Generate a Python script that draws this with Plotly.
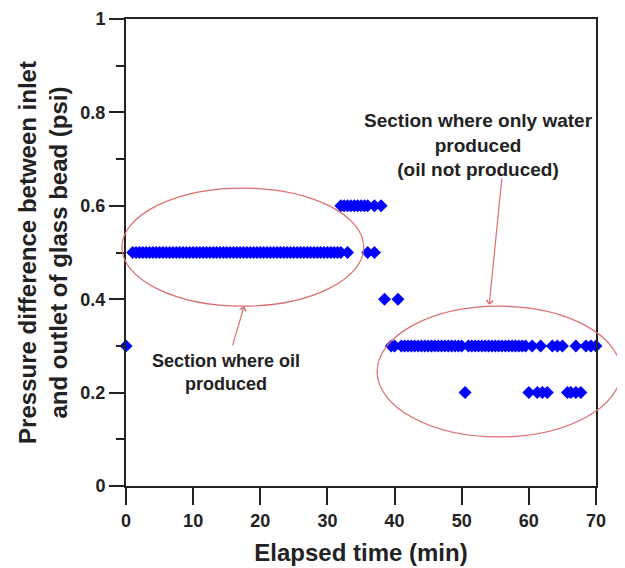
import plotly.graph_objects as go

# ---- data (elapsed time in min, pressure difference in psi) ----
t_05 = [1.0, 1.5, 2.0, 2.5, 3.0, 3.5, 4.0, 4.5, 5.0, 5.5, 6.0, 6.5, 7.0, 7.5, 8.0, 8.5,
        9.0, 9.5, 10.0, 10.5, 11.0, 11.5, 12.0, 12.5, 13.0, 13.5, 14.0, 14.5, 15.0, 15.5,
        16.0, 16.5, 17.0, 17.5, 18.0, 18.5, 19.0, 19.5, 20.0, 20.5, 21.0, 21.5, 22.0, 22.5,
        23.0, 23.5, 24.0, 24.5, 25.0, 25.5, 26.0, 26.5, 27.0, 27.5, 28.0, 28.5, 29.0, 29.5,
        30.0, 30.5, 31.0, 31.5, 32.0, 33.0, 36.0, 37.0]
p_05 = [0.5] * len(t_05)

t_06 = [32.0, 32.5, 33.0, 33.5, 34.0, 34.5, 35.0, 35.5, 36.0, 37.0, 38.0]
p_06 = [0.6] * len(t_06)

t_04 = [38.5, 40.5]
p_04 = [0.4, 0.4]

t_03 = [0.0, 39.5, 40.0, 41.0, 41.5, 42.0, 42.5, 43.0, 43.5, 44.0, 44.5, 45.0, 45.5, 46.0,
        46.5, 47.0, 47.5, 48.0, 48.5, 49.0, 49.5, 50.0, 51.0, 51.5, 52.0, 52.5, 53.0, 53.5,
        54.0, 54.5, 55.0, 55.5, 56.0, 56.5, 57.0, 57.5, 58.0, 58.5, 59.0, 59.5, 60.5, 61.75,
        63.5, 64.25, 65.0, 67.0, 68.5, 69.25, 70.0]
p_03 = [0.3] * len(t_03)

t_02 = [50.5, 60.0, 61.25, 62.0, 62.75, 65.75, 66.25, 67.0, 67.75]
p_02 = [0.2] * len(t_02)

times = t_05 + t_06 + t_04 + t_03 + t_02
pressures = p_05 + p_06 + p_04 + p_03 + p_02

x_ticks = [0, 10, 20, 30, 40, 50, 60, 70]
y_ticks = [0, 0.2, 0.4, 0.6, 0.8, 1]
y_tick_labels = ["0", "0.2", "0.4", "0.6", "0.8", "1"]

FONT = "Liberation Sans, Arial, sans-serif"
RED = "rgb(221,110,110)"

fig = go.Figure()
fig.add_trace(go.Scatter(
    x=times, y=pressures, mode="markers", cliponaxis=False,
    marker=dict(symbol="diamond", size=10, color="#0000ff", line=dict(width=0)),
    showlegend=False,
))

fig.update_layout(
    width=625, height=568,
    margin=dict(l=118, r=37, t=11, b=90, autoexpand=False),
    paper_bgcolor="white", plot_bgcolor="white",
    font=dict(family=FONT, color="#222222"),
    xaxis=dict(
        range=[0, 70], tickvals=x_ticks, showgrid=False, zeroline=False, automargin=False,
        showline=True, linecolor="#222222", linewidth=2, mirror=True,
        ticks="outside", ticklen=17, tickwidth=2, tickcolor="#222222",
        tickfont=dict(size=18, family=FONT, color="#222222", weight="bold"),
        title=dict(text="<b>Elapsed time (min)</b>", font=dict(size=24, family=FONT, color="#222222"),
                   standoff=15),
    ),
    yaxis=dict(
        range=[0, 1], tickvals=y_ticks, ticktext=y_tick_labels, showgrid=False, zeroline=False,
        automargin=False,
        showline=True, linecolor="#222222", linewidth=2, mirror=True,
        ticks="outside", ticklen=15, tickwidth=2, tickcolor="#222222",
        tickfont=dict(size=18, family=FONT, color="#222222", weight="bold"),
        minor=dict(dtick=0.1, ticks="outside", ticklen=8, tickwidth=2, tickcolor="#222222", showgrid=False),
        title=dict(text="<b>Pressure difference between inlet<br>and outlet of glass bead (psi)</b>",
                   font=dict(size=24, family=FONT, color="#222222"), standoff=6),
    ),
)

# ellipses (paper coords so they can extend past the frame)
fig.add_shape(type="circle", xref="paper", yref="paper",
              x0=-0.6 / 70, x1=35.4 / 70, y0=0.385, y1=0.638,
              line=dict(color=RED, width=1.2))
fig.add_shape(type="circle", xref="paper", yref="paper",
              x0=37.4 / 70, x1=73.7 / 70, y0=0.105, y1=0.385,
              line=dict(color=RED, width=1.2))

# arrows
fig.add_annotation(x=17.6, y=0.385, ax=15.8, ay=0.298, xref="x", yref="y", axref="x", ayref="y",
                   text="", showarrow=True, arrowhead=4, arrowsize=1.1, arrowwidth=1.2, arrowcolor=RED)
fig.add_annotation(x=54.1, y=0.388, ax=56.0, ay=0.662, xref="x", yref="y", axref="x", ayref="y",
                   text="", showarrow=True, arrowhead=4, arrowsize=1.1, arrowwidth=1.2, arrowcolor=RED)

# texts
fig.add_annotation(x=0.2128, y=0.242, xref="paper", yref="paper", showarrow=False,
                   xanchor="center", yanchor="middle",
                   text="<b>Section where oil<br>produced</b>",
                   font=dict(size=18, family=FONT, color="#222222"))
fig.add_annotation(x=0.749, y=0.730, xref="paper", yref="paper", showarrow=False,
                   xanchor="center", yanchor="middle",
                   text="<b>Section where only water<br>produced<br>(oil not produced)</b>",
                   font=dict(size=19, family=FONT, color="#222222"))

fig.write_html("out.html")
